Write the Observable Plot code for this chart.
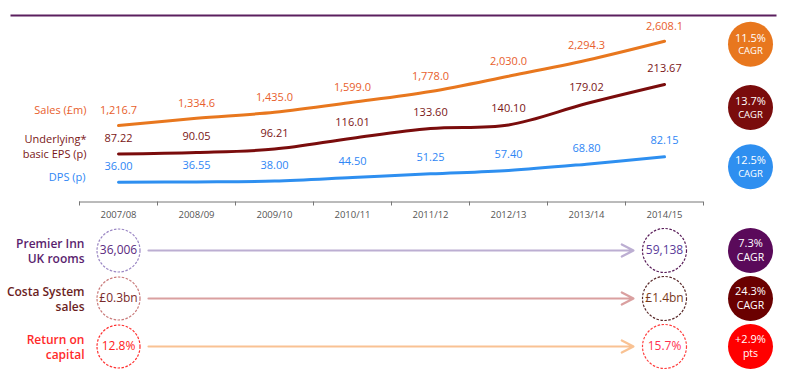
<!DOCTYPE html>
<html><head><meta charset="utf-8">
<script src="https://cdn.jsdelivr.net/npm/d3@7"></script>
<script src="https://cdn.jsdelivr.net/npm/@observablehq/plot@0.6"></script>
<style>
html,body{margin:0;padding:0;background:#fff;}
#chart{position:relative;width:800px;height:373px;overflow:hidden;background:#fff;}
#chart svg{position:absolute;left:0;}
</style></head><body><div id="chart"></div>
<script>
// ---------- data ----------
const years = [2007, 2008, 2009, 2010, 2011, 2012, 2013, 2014];
const yearLabels = ["2007/08", "2008/09", "2009/10", "2010/11", "2011/12", "2012/13", "2013/14", "2014/15"];
const sales = [1216.7, 1334.6, 1435.0, 1599.0, 1778.0, 2030.0, 2294.3, 2608.1];
const eps = [87.22, 90.05, 96.21, 116.01, 133.60, 140.10, 179.02, 213.67];
const dps = [36.00, 36.55, 38.00, 44.50, 51.25, 57.40, 68.80, 82.15];
const seriesNames = ["Sales (£m)", "Underlying*\nbasic EPS (p)", "DPS (p)"];
const seriesCagr = ["11.5%", "13.7%", "12.5%"];
const kpiNames = ["Premier Inn\nUK rooms", "Costa System\nsales", "Return on\ncapital"];
const kpiStart = ["36,006", "£0.3bn", "12.8%"];
const kpiEnd = ["59,138", "£1.4bn", "15.7%"];
const kpiChange = ["7.3%", "24.3%", "+2.9%"];
const kpiChangeUnit = ["CAGR", "CAGR", "pts"];

// ---------- styles ----------
const FONT = '"Open Sans", "DejaVu Sans", sans-serif';
const C = {
  rule: "#5b1f5e", axis: "#777", tick: "#555",
  salesLine: "#e8771e", salesText: "#e8602c",
  epsLine: "#7a0c0c", epsText: "#7a1616",
  dpsLine: "#2e8ff0", dpsText: "#2e86f5"
};
const kpiStyle = [
  {label: "#5a1e6e", startStroke: "#9b87c4", endStroke: "#5a1e5a", startText: "#5a2a80", endText: "#5a3a9a", arrow: "#bcaed2", badge: "#5a0a5a"},
  {label: "#6b1e1e", startStroke: "#c97a7a", endStroke: "#5a2a2a", startText: "#7a2a2a", endText: "#7a3a1a", arrow: "#daa0a0", badge: "#6a0000"},
  {label: "#ff2a2a", startStroke: "#ff3030", endStroke: "#ff4040", startText: "#ff2020", endText: "#ff3050", arrow: "#f9c293", badge: "#ff0000"}
];

const TOPH = 228, BOTH = 145, W = 800;
const first = years[0], last = years[years.length - 1];
const xOpts = {type: "linear", domain: [first - 0.5, last + 0.5], range: [79, 703]};
const boundaries = years.map(y => y - 0.5).concat([last + 0.5]);

const rows = years.map((y, i) => ({year: y, label: yearLabels[i], sales: sales[i], eps: eps[i], dps: dps[i]}));
const lastRow = rows[rows.length - 1];
const firstRow = rows[0];
const f1 = d3.format(",.1f"), f2 = d3.format(".2f");

const chart = document.getElementById("chart");

// badge = filled circle with a value line and a unit line
function badge(datum, yField, color, dx, dy, value, unit) {
  return [
    Plot.dot([datum], {x: "year", y: yField, r: 22.5, fill: color, dx, dy}),
    Plot.text([datum], {x: "year", y: yField, text: () => value, dx, dy: dy - 6, fill: "#fff", fontSize: 11}),
    Plot.text([datum], {x: "year", y: yField, text: () => unit, dx, dy: dy + 7, fill: "#fff", fontSize: 9.5})
  ];
}

// ---------- top: EPS & DPS (pence) ----------
const topPlot = Plot.plot({
  width: W, height: TOPH,
  marginTop: 15, marginLeft: 11, marginRight: 25, marginBottom: TOPH - 201.5,
  style: {fontFamily: FONT, background: "transparent", overflow: "visible"},
  x: {...xOpts, axis: null},
  y: {domain: [0, 300], range: [201.5, 36.5], axis: null},
  marks: [
    Plot.frame({anchor: "top", stroke: C.rule, strokeWidth: 2}),
    Plot.ruleY([0], {x1: boundaries[0], x2: boundaries[boundaries.length - 1], stroke: C.axis, strokeWidth: 1}),
    Plot.axisX({ticks: boundaries, tickFormat: () => "", tickSize: 4, stroke: C.axis, label: null}),
    Plot.axisX({ticks: years, tickFormat: d => yearLabels[years.indexOf(d)], tickSize: 0, tickPadding: 9, fontSize: 9.5, fill: C.tick, label: null}),
    // EPS
    Plot.line(rows, {x: "year", y: "eps", stroke: C.epsLine, strokeWidth: 3, curve: "catmull-rom", strokeLinecap: "round"}),
    Plot.text(rows, {x: "year", y: "eps", text: d => f2(d.eps), dy: -16, fill: C.epsText, fontSize: 11}),
    Plot.text([firstRow], {x: "year", y: "eps", text: () => seriesNames[1], textAnchor: "end", dx: -32, dy: -8, fill: C.epsText, fontSize: 11, lineHeight: 1.35}),
    ...badge(lastRow, "eps", C.epsLine, 86, 23, seriesCagr[1], "CAGR"),
    // DPS
    Plot.line(rows, {x: "year", y: "dps", stroke: C.dpsLine, strokeWidth: 3, curve: "catmull-rom", strokeLinecap: "round"}),
    Plot.text(rows, {x: "year", y: "dps", text: d => f2(d.dps), dy: -16, fill: C.dpsText, fontSize: 11}),
    Plot.text([firstRow], {x: "year", y: "dps", text: () => seriesNames[2], textAnchor: "end", dx: -33, dy: -4.5, fill: C.dpsText, fontSize: 11}),
    ...badge(lastRow, "dps", C.dpsLine, 86, 10, seriesCagr[2], "CAGR")
  ]
});
topPlot.style.top = "0px";
chart.appendChild(topPlot);

// ---------- top overlay: Sales (£m) ----------
const salesPlot = Plot.plot({
  width: W, height: TOPH,
  marginTop: 15, marginLeft: 11, marginRight: 25, marginBottom: TOPH - 201.5,
  style: {fontFamily: FONT, background: "transparent", overflow: "visible"},
  x: {...xOpts, axis: null},
  y: {domain: [0, 2608.1], range: [198.7, 40.7], axis: null},
  marks: [
    Plot.line(rows, {x: "year", y: "sales", stroke: C.salesLine, strokeWidth: 3, curve: "catmull-rom", strokeLinecap: "round"}),
    Plot.text(rows, {x: "year", y: "sales", text: d => f1(d.sales), dy: -15, fill: C.salesText, fontSize: 11}),
    Plot.text([firstRow], {x: "year", y: "sales", text: () => seriesNames[0], textAnchor: "end", dx: -32, dy: -15, fill: C.salesText, fontSize: 11}),
    ...badge(lastRow, "sales", C.salesLine, 86, 3, seriesCagr[0], "CAGR")
  ]
});
salesPlot.style.top = "0px";
chart.appendChild(salesPlot);

// ---------- bottom: KPIs ----------
const kpis = kpiNames.map((n, i) => ({key: i, name: n, start: kpiStart[i], end: kpiEnd[i], change: kpiChange[i], unit: kpiChangeUnit[i], ...kpiStyle[i]}));
const bottomPlot = Plot.plot({
  width: W, height: BOTH,
  marginTop: 0, marginBottom: 0, marginLeft: 11, marginRight: 25,
  style: {fontFamily: FONT, background: "transparent", overflow: "visible"},
  x: {...xOpts, axis: null},
  y: {type: "point", domain: kpis.map(d => d.key), range: [21, 118], padding: 0, axis: null},
  color: {type: "identity"},
  marks: [
    Plot.arrow(kpis, {x1: () => first, x2: () => last, y1: "key", y2: "key", stroke: d => d.arrow, strokeWidth: 2.2, insetStart: 30, insetEnd: 31, headLength: 9, headAngle: 55, bend: 0}),
    Plot.dot(kpis, {x: () => first, y: "key", r: 21.5, fill: "#fff", stroke: d => d.startStroke, strokeWidth: 1.2, strokeDasharray: "2.5,1.5"}),
    Plot.dot(kpis, {x: () => last, y: "key", r: 22, fill: "#fff", stroke: d => d.endStroke, strokeWidth: 1.2, strokeDasharray: "2.5,1.5"}),
    Plot.text(kpis, {x: () => first, y: "key", text: "start", fill: d => d.startText, fontSize: 12}),
    Plot.text(kpis, {x: () => last, y: "key", text: "end", fill: d => d.endText, fontSize: 12}),
    Plot.text(kpis, {x: () => first, y: "key", text: "name", textAnchor: "end", dx: -34, fill: d => d.label, fontSize: 12, fontWeight: 600, lineHeight: 1.3}),
    Plot.dot(kpis, {x: () => last, y: "key", r: 22.5, fill: d => d.badge, dx: 86}),
    Plot.text(kpis, {x: () => last, y: "key", text: "change", dx: 86, dy: -7, fill: "#fff", fontSize: 11}),
    Plot.text(kpis, {x: () => last, y: "key", text: "unit", dx: 86, dy: 7, fill: "#fff", fontSize: 10.5})
  ]
});
bottomPlot.style.top = TOPH + "px";
chart.appendChild(bottomPlot);
</script>
</body></html>
